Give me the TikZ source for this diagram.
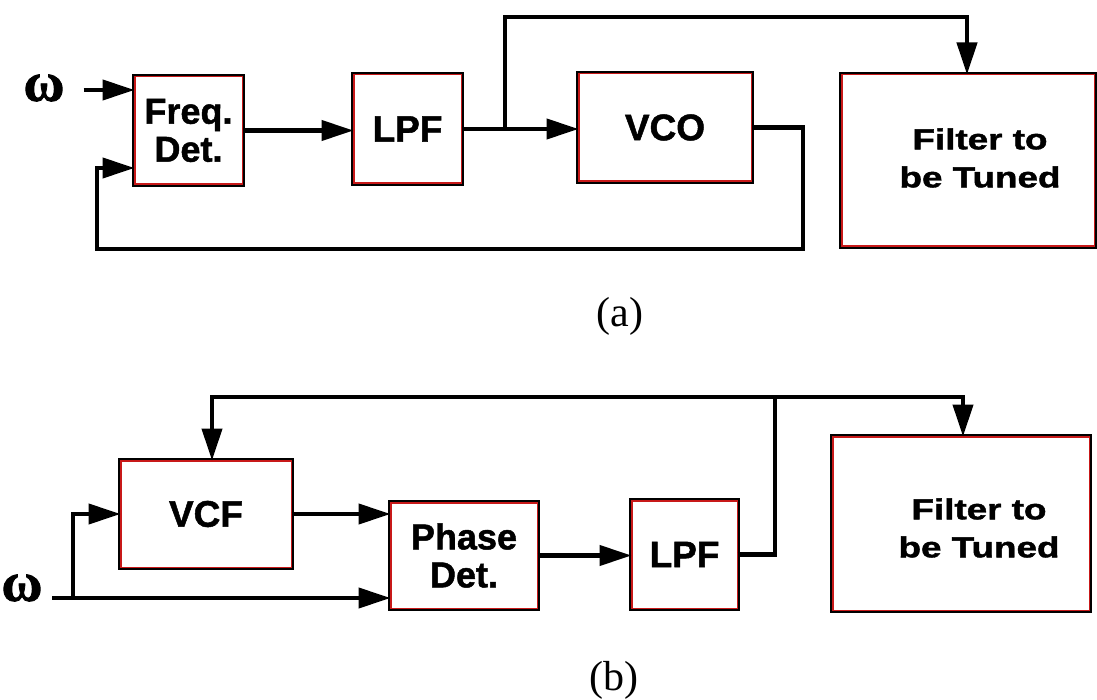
\documentclass[tikz,border=0pt]{standalone}
\usepackage{fontspec}
\setmainfont{Liberation Sans}
\newfontfamily\heavy{Liberation Sans Bold}[FakeBold=1.3]
\newfontfamily\capfont{Liberation Serif}
\newfontfamily\omegafont{Liberation Serif Bold}[FakeBold=1.5]
\usetikzlibrary{arrows.meta,calc}
\definecolor{boxred}{RGB}{200,25,25}
\newcommand{\wide}[1]{\scalebox{1.27}[1]{#1}}
\begin{document}
\begin{tikzpicture}[x=1pt,y=-1pt,
  box/.style={draw=boxred, line width=2pt, fill=white, inner sep=0pt, outer sep=0pt,
              align=center, font=\heavy\fontsize{37}{39}\selectfont},
  twoline/.style={font=\heavy\fontsize{36}{38}\selectfont},
  filtertext/.style={align=center, inner sep=0pt, font=\heavy\fontsize{29}{38}\selectfont},
  outline/.style={draw=black, line width=1.6pt},
  wire/.style={line width=4.2pt, line join=miter},
  arr/.style={wire, -{Triangle[length=32pt,width=20pt]}},
  omega/.style={font=\omegafont\fontsize{56}{56}\selectfont, inner sep=0pt},
  caption/.style={font=\capfont\fontsize{42}{42}\selectfont, inner sep=0pt}
]
\useasboundingbox (0,0) rectangle (1097,700);

% ---------------- (a) ----------------
\node[box, twoline, minimum width=108pt, minimum height=108pt] (fd) at (188.5,130.5) {Freq.\\Det.};
\node[box, minimum width=108pt, minimum height=109pt] (lpfa) at (407.5,129) {LPF};
\node[box, minimum width=173pt, minimum height=108pt] (vco) at (665,127.5) {VCO};
\node[box, minimum width=253pt, minimum height=172pt] (fa) at (968,160.5) {};
\node[filtertext] (fat) at (980,158) {\wide{Filter to}\\\wide{be Tuned}};

\node[omega] (wa) at (44,88) {ω};
\path (fd.west) ++(-51,-40.5) coordinate (win1);
\path (fd.west) ++(0,-40.5) coordinate (fdin1);
\path (fd.west) ++(0,37.5) coordinate (fdin2);
\coordinate (c1) at (803,249);
\coordinate (c2) at (97,168);
\coordinate (br1) at (505,129);
\coordinate (tp1) at (505,17);
\path (fa.north) ++(-1,0) coordinate (fain);

\draw[arr] (win1) -- (fdin1);
\draw[arr] (fd.east) -- (fd.east -| lpfa.west);
\draw[arr] (lpfa.east) -- (lpfa.east -| vco.west);
\draw[arr] (vco.east) -| (c1) -| (c2) -- (fdin2);
\draw[arr] (br1) -- (tp1) -| (fain);

\node[caption] (capa) at (620,316) {(a)};

% ---------------- (b) ----------------
\node[box, minimum width=171pt, minimum height=107pt] (vcf) at (206,514) {VCF};
\node[box, twoline, minimum width=147pt, minimum height=106pt] (pd) at (464,555.5) {Phase\\Det.};
\node[box, minimum width=106pt, minimum height=108pt] (lpfb) at (684.5,554.5) {LPF};
\node[box, minimum width=257pt, minimum height=174pt] (fb) at (961,523.5) {};
\node[filtertext] (fbt) at (979,528) {\wide{Filter to}\\\wide{be Tuned}};

\node[omega] (wb) at (22,588) {ω};
\coordinate (w2) at (52,598);
\coordinate (br2) at (73,598);
\coordinate (r2) at (775,397);
\path (vcf.north) ++(6,0) coordinate (vcfin);
\path (fb.north) ++(2,0) coordinate (fbin);

\draw[arr] (w2) -- (w2 -| pd.west);
\draw[arr] (br2) |- (vcf.west);
\draw[arr] (vcf.east) -- (vcf.east -| pd.west);
\draw[arr] (pd.east) -- (pd.east -| lpfb.west);
\draw[wire] (lpfb.east) -| (r2);
\draw[arr] (r2) -| (vcfin);
\draw[arr] (r2) -| (fbin);

\node[caption] (capb) at (614,680) {(b)};

% black outer frames of the boxes
\foreach \n in {fd,lpfa,vco,fa,vcf,pd,lpfb,fb}
  \draw[outline] ($(\n.south west)+(-1.6pt,-1.6pt)$) rectangle ($(\n.north east)+(1.6pt,1.6pt)$);
\end{tikzpicture}
\end{document}
